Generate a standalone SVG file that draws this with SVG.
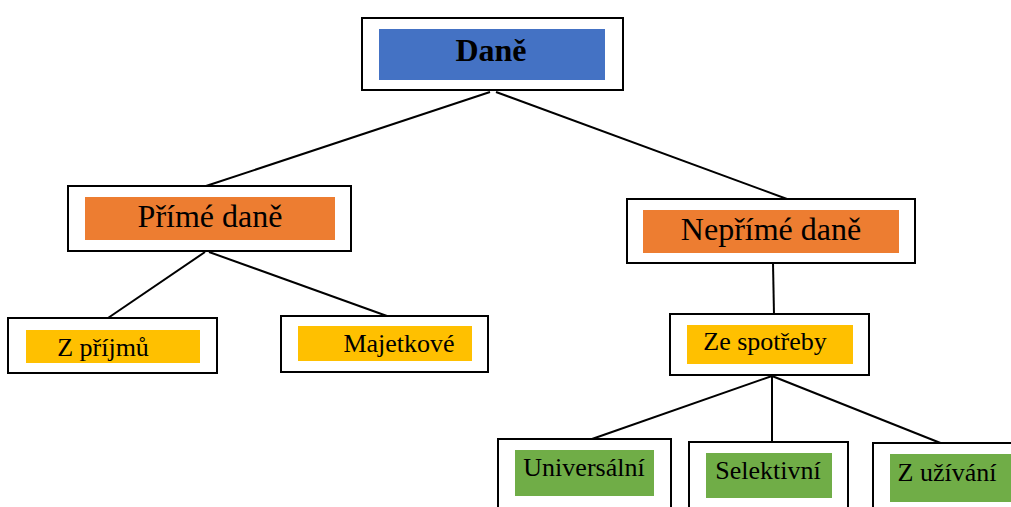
<svg xmlns="http://www.w3.org/2000/svg" width="1011" height="507" viewBox="0 0 1011 507">
<style>
.box{fill:#fff;stroke:#000;stroke-width:2}
.blue{fill:#4472C4}
.orange{fill:#ED7D31}
.yellow{fill:#FFC000}
.green{fill:#70AD47}
text{font-family:"Liberation Serif","Times New Roman",serif;fill:#000;text-anchor:middle}
.t1{font-size:32px;font-weight:bold}
.t2{font-size:32px}
.t3{font-size:26px}
.conn line{stroke:#000;stroke-width:2}
</style>
<rect width="1011" height="507" fill="#fff"/>
<g id="connectors" class="conn">
<line x1="490" y1="92" x2="206" y2="186"/>
<line x1="496" y1="92" x2="787" y2="199"/>
<line x1="205" y1="252" x2="108" y2="318"/>
<line x1="209" y1="252" x2="387" y2="316"/>
<line x1="773" y1="263" x2="774" y2="315"/>
<line x1="772" y1="376" x2="592" y2="439"/>
<line x1="772" y1="376" x2="772" y2="443"/>
<line x1="772" y1="376" x2="943" y2="444"/>
</g>
<g id="dane">
<rect class="box" x="362" y="18" width="261" height="72"/>
<rect class="blue" x="379" y="29" width="226" height="51"/>
<text class="t1" x="491" y="61">Daně</text>
</g>
<g id="prime">
<rect class="box" x="68" y="186" width="283" height="65"/>
<rect class="orange" x="85" y="197" width="250" height="43"/>
<text class="t2" x="210" y="227">Přímé daně</text>
</g>
<g id="neprime">
<rect class="box" x="627" y="199" width="288" height="64"/>
<rect class="orange" x="643" y="210" width="256" height="43"/>
<text class="t2" x="771" y="240">Nepřímé daně</text>
</g>
<g id="zprijmu">
<rect class="box" x="8" y="318" width="209" height="55"/>
<rect class="yellow" x="26" y="330" width="174" height="33"/>
<text class="t3" x="103" y="356">Z příjmů</text>
</g>
<g id="majetkove">
<rect class="box" x="281" y="316" width="207" height="56"/>
<rect class="yellow" x="298" y="326" width="174" height="35"/>
<text class="t3" x="399" y="352">Majetkové</text>
</g>
<g id="zespotreby">
<rect class="box" x="670" y="314" width="199" height="61"/>
<rect class="yellow" x="687" y="325" width="166" height="39"/>
<text class="t3" x="765" y="350">Ze spotřeby</text>
</g>
<g id="universalni">
<rect class="box" x="498" y="439" width="173" height="72"/>
<rect class="green" x="515" y="450" width="139" height="46"/>
<text class="t3" x="584" y="476">Universální</text>
</g>
<g id="selektivni">
<rect class="box" x="689" y="442" width="159" height="70"/>
<rect class="green" x="706" y="453" width="126" height="45"/>
<text class="t3" x="768" y="479">Selektivní</text>
</g>
<g id="zuzivani">
<rect class="box" x="873" y="443" width="150" height="70"/>
<rect class="green" x="890" y="454" width="121" height="48"/>
<text class="t3" x="947" y="481">Z užívání</text>
</g>
</svg>
